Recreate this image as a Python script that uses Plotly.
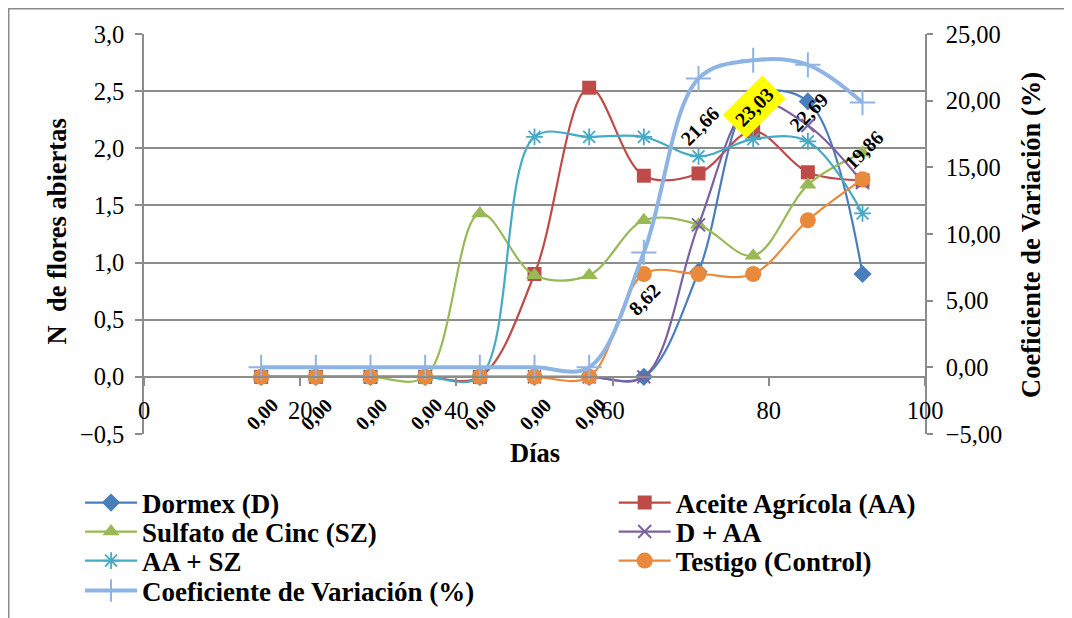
import plotly.graph_objects as go

# ---------------- data ----------------
days = [15, 22, 29, 36, 43, 50, 57, 64, 71, 78, 85, 92]
dormex = [0, 0, 0, 0, 0, 0, 0, 0, 0.92, 2.45, 2.41, 0.90]
aceite = [0, 0, 0, 0, 0, 0.90, 2.53, 1.76, 1.78, 2.15, 1.79, 1.72]
sulfato = [0, 0, 0, 0, 1.43, 0.89, 0.89, 1.37, 1.33, 1.06, 1.68, 1.96]
d_aa = [0, 0, 0, 0, 0, 0, 0, 0, 1.33, 2.40, 2.20, 1.70]
aa_sz = [0, 0, 0, 0, 0, 2.10, 2.10, 2.10, 1.93, 2.08, 2.06, 1.43]
testigo = [0, 0, 0, 0, 0, 0, 0, 0.90, 0.90, 0.90, 1.37, 1.73]
cv = [0, 0, 0, 0, 0, 0, 0, 8.62, 21.66, 23.03, 22.69, 19.86]

names = ["Dormex (D)", "Aceite Agrícola (AA)", "Sulfato de Cinc (SZ)",
         "D + AA", "AA + SZ", "Testigo (Control)", "Coeficiente de Variación (%)"]
x_title = "Días"
y_title = "N\u00a0\u00a0de flores abiertas"
y2_title = "Coeficiente de Variación (%)"
highlight_value = 23.03

FONT = "Liberation Serif"
GRID = "#8c8c8c"

fig = go.Figure()

def add(y, name, color, symbol, size, legend, mline=None, lw=2.2, yaxis="y"):
    marker = dict(symbol=symbol, size=size, color=color)
    if mline:
        marker["line"] = dict(color=color, width=mline)
    fig.add_trace(go.Scatter(
        x=days, y=y, name=name, mode="lines+markers",
        line=dict(color=color, width=lw, shape="spline", smoothing=1.0),
        marker=marker, legend=legend, yaxis=yaxis))

add(dormex, names[0], "#4A7EBB", "diamond", 14, "legend")
add(aceite, names[1], "#BE4B48", "square", 14, "legend2")
add(sulfato, names[2], "#98B954", "triangle-up", 15, "legend3")
add(d_aa, names[3], "#7D60A0", "x-thin-open", 13, "legend4", mline=2)
add(aa_sz, names[4], "#46AAC5", "asterisk-open", 14, "legend5", mline=1.8)
add(testigo, names[5], "#E8893C", "circle", 16, "legend6")
add(cv, names[6], "#8EB4E3", "cross-thin-open", 18, "legend7", mline=2, lw=4, yaxis="y2")

annotations = []
for d, v in zip(days, cv):
    txt = f"{v:.2f}".replace(".", ",")
    a = dict(x=d, y=v, xref="x", yref="y2", text=f"<b>{txt}</b>",
             showarrow=False, textangle=-45, yshift=-47, xshift=1,
             xanchor="center", yanchor="middle",
             font=dict(family=FONT, size=20, color="black"))
    if v == highlight_value:
        a["bgcolor"] = "#FFFF00"
        a["borderpad"] = 5
    annotations.append(a)

title_font = dict(family=FONT, size=26.5, color="black", weight="bold")
annotations += [
    dict(text=x_title, xref="paper", yref="paper", x=0.5006, y=-0.0475,
         xanchor="center", yanchor="middle", showarrow=False, font=title_font),
    dict(text=y_title, xref="paper", yref="paper", x=-0.1108, y=0.5075,
         xanchor="center", yanchor="middle", showarrow=False, textangle=-90,
         font=title_font),
    dict(text=y2_title, xref="paper", yref="paper", x=1.1357, y=0.4975,
         xanchor="center", yanchor="middle", showarrow=False, textangle=-90,
         font=title_font),
]

legend_common = dict(xref="container", yref="container", yanchor="middle",
                     xanchor="left", orientation="v", itemwidth=52,
                     bgcolor="rgba(0,0,0,0)", tracegroupgap=0,
                     font=dict(family=FONT, size=27, color="black",
                               weight="bold"))

def cy(sy):
    return 1 - (sy - 8) / 618

XL, XR = 0.0672, 0.5650
legends = {
    "legend": (XL, cy(503)), "legend2": (XR, cy(503)),
    "legend3": (XL, cy(532)), "legend4": (XR, cy(532)),
    "legend5": (XL, cy(561)), "legend6": (XR, cy(561)),
    "legend7": (XL, cy(591)),
}
legend_layout = {k: dict(x=v[0], y=v[1], **legend_common) for k, v in legends.items()}

tick_font = dict(family=FONT, size=24.5, color="black")

fig.update_layout(
    width=1072, height=618,
    margin=dict(l=136, r=155, t=26, b=192, autoexpand=False),
    paper_bgcolor="white", plot_bgcolor="white",
    separators=",.",
    font=dict(family=FONT, size=24, color="black"),
    xaxis=dict(range=[0, 100], dtick=20, anchor="free", position=0.5 / 3.5,
               showline=True, linecolor=GRID, linewidth=1.5,
               ticks="outside", ticklen=8, tickcolor=GRID, tickwidth=1.5,
               ticklabelstandoff=4, showgrid=False, zeroline=False,
               tickfont=tick_font),
    yaxis=dict(range=[-0.5, 3.0], dtick=0.5, tickformat=".1f",
               showline=True, linecolor=GRID, linewidth=1.5,
               ticks="outside", ticklen=7, tickcolor=GRID, tickwidth=1.5,
               ticklabelstandoff=6, tickfont=tick_font,
               showgrid=True, gridcolor=GRID, gridwidth=1.5, zeroline=False),
    yaxis2=dict(range=[-5, 25], dtick=5, tickformat=".2f", overlaying="y",
                side="right", showline=True, linecolor=GRID, linewidth=1.5,
                ticks="outside", ticklen=6, tickcolor=GRID, tickwidth=1.5,
                ticklabelstandoff=8, tickfont=tick_font,
                showgrid=False, zeroline=False),
    annotations=annotations,
    shapes=[dict(type="rect", xref="paper", yref="paper",
                 x0=(0.75 - 136) / 781, x1=(1100 - 136) / 781,
                 y0=(426 - 640) / 400, y1=(426 - 0.75) / 400,
                 line=dict(color=GRID, width=1.5), layer="below")],
    showlegend=True,
    **legend_layout,
)

fig.write_html("out.html")
